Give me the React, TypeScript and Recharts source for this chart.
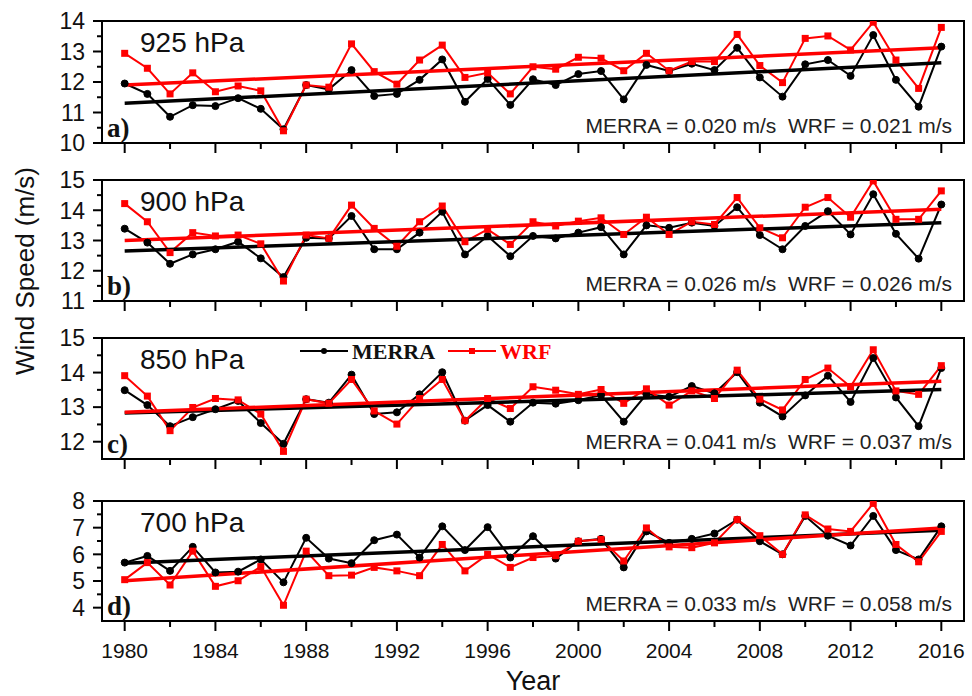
import React from "react";
import { LineChart, Line, XAxis, YAxis, ReferenceLine, ReferenceArea, Legend } from "recharts";

// years on the shared x axis
const years = [
  1980, 1981, 1982, 1983, 1984, 1985, 1986, 1987, 1988, 1989,
  1990, 1991, 1992, 1993, 1994, 1995, 1996, 1997, 1998, 1999,
  2000, 2001, 2002, 2003, 2004, 2005, 2006, 2007, 2008, 2009,
  2010, 2011, 2012, 2013, 2014, 2015, 2016,
];
const xTicks = [1980, 1982, 1984, 1986, 1988, 1990, 1992, 1994, 1996, 1998, 2000, 2002, 2004, 2006, 2008, 2010, 2012, 2014, 2016];
const xLabelTicks = [1980, 1984, 1988, 1992, 1996, 2000, 2004, 2008, 2012, 2016];

// 925 hPa
const merra925 = [11.95, 11.61, 10.86, 11.24, 11.21, 11.47, 11.12, 10.45, 11.9, 11.76, 12.39, 11.54, 11.61, 12.07, 12.74, 11.35, 12.1, 11.25, 12.09, 11.9, 12.26, 12.36, 11.43, 12.56, 12.36, 12.6, 12.39, 13.12, 12.15, 11.52, 12.58, 12.72, 12.2, 13.54, 12.07, 11.19, 13.16];
const wrf925 = [12.94, 12.45, 11.61, 12.3, 11.68, 11.87, 11.71, 10.4, 11.9, 11.83, 13.25, 12.34, 11.93, 12.72, 13.21, 12.15, 12.3, 11.61, 12.5, 12.42, 12.81, 12.78, 12.37, 12.94, 12.37, 12.67, 12.67, 13.56, 12.54, 11.98, 13.43, 13.51, 13.05, 13.96, 12.72, 11.79, 13.79];
// 900 hPa
const merra900 = [13.39, 12.93, 12.23, 12.54, 12.71, 12.96, 12.41, 11.79, 13.09, 13.07, 13.81, 12.71, 12.71, 13.26, 13.95, 12.54, 13.15, 12.48, 13.15, 13.07, 13.26, 13.44, 12.54, 13.5, 13.42, 13.59, 13.48, 14.1, 13.18, 12.71, 13.48, 13.97, 13.2, 14.53, 13.22, 12.4, 14.19];
const wrf900 = [14.22, 13.62, 12.6, 13.26, 13.15, 13.18, 12.89, 11.66, 13.18, 13.07, 14.17, 13.4, 12.81, 13.62, 14.14, 12.96, 13.37, 12.87, 13.62, 13.48, 13.64, 13.75, 13.2, 13.77, 13.2, 13.62, 13.53, 14.42, 13.42, 13.09, 14.1, 14.42, 13.77, 14.97, 13.7, 13.7, 14.64];
// 850 hPa
const merra850 = [13.49, 13.06, 12.45, 12.71, 12.94, 13.18, 12.54, 11.94, 13.23, 13.13, 13.94, 12.8, 12.85, 13.37, 14.01, 12.61, 13.06, 12.58, 13.13, 13.1, 13.2, 13.35, 12.58, 13.37, 13.3, 13.61, 13.4, 14.01, 13.13, 12.73, 13.34, 13.91, 13.15, 14.42, 13.28, 12.45, 14.13];
const wrf850 = [13.91, 13.32, 12.32, 12.99, 13.25, 13.21, 12.8, 11.72, 13.23, 13.11, 13.8, 12.89, 12.51, 13.25, 13.8, 12.61, 13.25, 12.96, 13.59, 13.49, 13.37, 13.51, 13.11, 13.53, 13.06, 13.47, 13.25, 14.07, 13.23, 12.92, 13.8, 14.13, 13.59, 14.66, 13.47, 13.37, 14.2];
// 700 hPa
const merra700 = [5.69, 5.94, 5.38, 6.28, 5.32, 5.35, 5.81, 4.95, 6.62, 5.84, 5.67, 6.53, 6.74, 5.88, 7.05, 6.16, 7.02, 5.88, 6.68, 5.84, 6.49, 6.58, 5.51, 6.86, 6.43, 6.58, 6.78, 7.3, 6.49, 6.0, 7.44, 6.7, 6.33, 7.44, 6.16, 5.81, 7.05];
const wrf700 = [5.05, 5.69, 4.85, 6.12, 4.8, 5.01, 5.54, 4.09, 6.12, 5.2, 5.22, 5.51, 5.38, 5.2, 6.37, 5.38, 6.0, 5.51, 5.88, 5.95, 6.49, 6.56, 5.75, 6.99, 6.28, 6.25, 6.43, 7.3, 6.7, 6.0, 7.48, 6.95, 6.86, 7.91, 6.37, 5.72, 6.86];

// trend lines (value at 1980 and 2016)
const merraTrendStart = [11.3, 12.65, 12.83, 5.67];
const merraTrendEnd = [12.63, 13.59, 13.51, 6.9];
const wrfTrendStart = [11.9, 13.0, 12.85, 5.01];
const wrfTrendEnd = [13.12, 14.03, 13.75, 6.99];

const levels = ["925 hPa", "900 hPa", "850 hPa", "700 hPa"];
const tags = ["a)", "b)", "c)", "d)"];
const merraRates = ["0.020", "0.026", "0.041", "0.033"];
const wrfRates = ["0.021", "0.026", "0.037", "0.058"];

const yDomains = [[10, 14], [11, 15], [11.5, 15], [3.5, 8]];
const yTicks = [
  [10, 10.5, 11, 11.5, 12, 12.5, 13, 13.5, 14],
  [11, 11.5, 12, 12.5, 13, 13.5, 14, 14.5, 15],
  [12, 12.5, 13, 13.5, 14, 14.5, 15],
  [4, 4.5, 5, 5.5, 6, 6.5, 7, 7.5, 8],
];

const merraAll = [merra925, merra900, merra850, merra700];
const wrfAll = [wrf925, wrf900, wrf850, wrf700];

const RED = "#ff0000";
const SANS = "'Liberation Sans', Arial, sans-serif";
const SERIF = "'Liberation Serif', 'Times New Roman', serif";
const PAD = 12;

// layout of the four stacked panels
const panelTops = [21, 180, 338, 501];
const panelHeights = [122, 121, 121, 120];

const SquareDot = (props: any) => {
  const { cx, cy } = props;
  if (cx == null || cy == null) return null;
  return <rect x={cx - 3.5} y={cy - 3.5} width={7} height={7} fill={RED} />;
};

const XTick = (props: any) => {
  const { x, y, payload, last } = props;
  const major = xLabelTicks.includes(payload.value);
  return (
    <g>
      <line x1={x} x2={x} y1={y} y2={y + (major ? 10 : 6)} stroke="#000" strokeWidth={2} />
      {last && major && (
        <text x={x} y={y + 37} textAnchor="middle" fontSize={21} fill="#111">
          {payload.value}
        </text>
      )}
    </g>
  );
};

const YTick = (props: any) => {
  const { x, y, payload } = props;
  const major = Number.isInteger(payload.value);
  return (
    <g>
      <line x1={x - (major ? 9 : 5)} x2={x} y1={y} y2={y} stroke="#000" strokeWidth={2} />
      {major && (
        <text x={x - 17} y={y} dy="0.36em" textAnchor="end" fontSize={23} fill="#111">
          {payload.value}
        </text>
      )}
    </g>
  );
};

const PanelText = (props: any) => {
  const { viewBox, idx } = props;
  if (!viewBox) return null;
  const { x, y, width, height } = viewBox;
  return (
    <g>
      <text x={x + 38} y={y + 31} fontSize={28} fill="#111">
        {levels[idx]}
      </text>
      <text x={x + 5} y={y + height - 6} fontSize={27} fontWeight="bold" fontFamily={SERIF} fill="#111">
        {tags[idx]}
      </text>
      <text x={x + width - 12} y={y + height - 10} textAnchor="end" fontSize={21} fill="#222" style={{ whiteSpace: "pre" }}>
        {`MERRA = ${merraRates[idx]} m/s  WRF = ${wrfRates[idx]} m/s`}
      </text>
    </g>
  );
};

const LegendBox = (props: any) => {
  const { payload } = props;
  if (!payload) return null;
  return (
    <svg width={280} height={26} style={{ display: "block" }}>
      {payload.map((p: any, k: number) => {
        const x0 = 2 + k * 148;
        const c = p.color;
        return (
          <g key={k}>
            <line x1={x0} x2={x0 + 48} y1={12} y2={12} stroke={c} strokeWidth={2} />
            {k === 0 ? (
              <circle cx={x0 + 24} cy={12} r={3} fill={c} />
            ) : (
              <rect x={x0 + 21} y={9} width={6} height={6} fill={c} />
            )}
            <text x={x0 + 52} y={20} fontSize={22} fontWeight="bold" fontFamily={SERIF} fill={c === "#000" ? "#111" : c}>
              {p.value}
            </text>
          </g>
        );
      })}
    </svg>
  );
};

function Panel({ idx }: { idx: number }) {
  const last = idx === 3;
  const data = years.map((yr, k) => ({ year: yr, merra: merraAll[idx][k], wrf: wrfAll[idx][k] }));
  const xH = last ? 75 : 14;
  const [lo, hi] = yDomains[idx];
  return (
    <div style={{ position: "absolute", left: 0, top: panelTops[idx] - PAD }}>
      <LineChart
        width={972}
        height={PAD + panelHeights[idx] + xH}
        data={data}
        margin={{ top: PAD, right: 8, bottom: 0, left: 0 }}
      >
        <XAxis
          dataKey="year"
          type="number"
          domain={[1979, 2017]}
          ticks={xTicks}
          interval={0}
          allowDataOverflow
          height={xH}
          tickSize={0}
          tickMargin={0}
          tickLine={false}
          axisLine={false}
          tick={<XTick last={last} />}
          label={last ? { value: "Year", position: "insideBottom", offset: 6, fontSize: 27, fill: "#111" } : undefined}
        />
        <YAxis
          type="number"
          domain={[lo, hi]}
          ticks={yTicks[idx]}
          interval={0}
          allowDataOverflow
          width={102}
          tickSize={0}
          tickMargin={0}
          tickLine={false}
          axisLine={false}
          tick={<YTick />}
        />
        <ReferenceArea
          x1={1979}
          x2={2017}
          y1={lo}
          y2={hi}
          fill="none"
          fillOpacity={0}
          stroke="#000"
          strokeWidth={2}
          label={<PanelText idx={idx} />}
        />
        <Line
          dataKey="merra"
          name="MERRA"
          stroke="#000"
          strokeWidth={2}
          dot={{ r: 3.5, fill: "#000", stroke: "#000", strokeWidth: 1 }}
          isAnimationActive={false}
        />
        <Line dataKey="wrf" name="WRF" stroke={RED} strokeWidth={2} dot={<SquareDot />} isAnimationActive={false} />
        <ReferenceLine
          segment={[{ x: 1980, y: merraTrendStart[idx] }, { x: 2016, y: merraTrendEnd[idx] }]}
          stroke="#000"
          strokeWidth={3.5}
        />
        <ReferenceLine
          segment={[{ x: 1980, y: wrfTrendStart[idx] }, { x: 2016, y: wrfTrendEnd[idx] }]}
          stroke={RED}
          strokeWidth={3.5}
        />
        {idx === 2 && (
          <Legend
            layout="horizontal"
            verticalAlign="middle"
            content={<LegendBox />}
            wrapperStyle={{ position: "absolute", left: 298, top: 13, width: 280, height: 26 }}
          />
        )}
      </LineChart>
    </div>
  );
}

export default function App() {
  return (
    <div
      style={{
        position: "absolute",
        left: 0,
        top: 0,
        width: 972,
        height: 696,
        background: "#fff",
        fontFamily: SANS,
        overflow: "hidden",
      }}
    >
      {[0, 1, 2, 3].map((i) => (
        <Panel key={i} idx={i} />
      ))}
      <svg width={60} height={696} style={{ position: "absolute", left: 0, top: 0 }}>
        <text transform="translate(34,271) rotate(-90)" textAnchor="middle" fontSize={26} fill="#111">
          Wind Speed (m/s)
        </text>
      </svg>
    </div>
  );
}
